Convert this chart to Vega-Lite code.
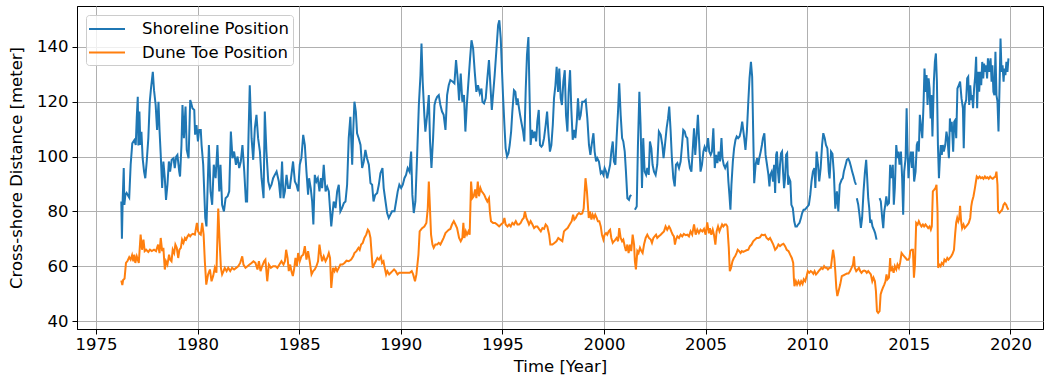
{
"$schema": "https://vega.github.io/schema/vega-lite/v6.json",
"autosize": "none",
"width": 966,
"height": 323,
"padding": {"left": 77, "top": 6, "right": 2, "bottom": 51},
"config": {
  "font": "DejaVu Sans",
  "view": {"stroke": "#000000", "strokeWidth": 1},
  "axis": {"labelFontSize": 16.5, "titleFontSize": 16.5, "titleFontWeight": "normal", "labelColor": "#000", "titleColor": "#000", "domainColor": "#000", "tickColor": "#000", "tickSize": 5, "gridColor": "#b0b0b0", "gridWidth": 1, "labelPadding": 2}
},
"datasets": {
"shore": [
{"t":1976.25,"v":83.6},{"t":1976.28,"v":70},{"t":1976.32,"v":84.8},{"t":1976.37,"v":95.8},{"t":1976.40,"v":82.4},{"t":1976.45,"v":86},{"t":1976.51,"v":86.7},{"t":1976.60,"v":85.5},{"t":1976.64,"v":85},{"t":1976.71,"v":97},{"t":1976.79,"v":104.8},{"t":1976.89,"v":106},{"t":1976.96,"v":104.2},{"t":1977.01,"v":114},{"t":1977.06,"v":121.8},{"t":1977.09,"v":104},{"t":1977.14,"v":116.4},{"t":1977.19,"v":104.2},{"t":1977.24,"v":109},{"t":1977.30,"v":99.4},{"t":1977.37,"v":94.5},{"t":1977.43,"v":92.1},{"t":1977.50,"v":98.2},{"t":1977.58,"v":106.7},{"t":1977.65,"v":120},{"t":1977.71,"v":124.8},{"t":1977.80,"v":130.9},{"t":1977.86,"v":124.2},{"t":1977.94,"v":118.8},{"t":1978.01,"v":109.7},{"t":1978.08,"v":120},{"t":1978.13,"v":109.7},{"t":1978.19,"v":100.6},{"t":1978.26,"v":88.5},{"t":1978.32,"v":98.2},{"t":1978.39,"v":92.1},{"t":1978.45,"v":84.2},{"t":1978.52,"v":89.7},{"t":1978.59,"v":98.2},{"t":1978.65,"v":94.5},{"t":1978.73,"v":98.8},{"t":1978.82,"v":99.4},{"t":1978.88,"v":95.8},{"t":1978.95,"v":100},{"t":1979.01,"v":100.6},{"t":1979.10,"v":94.5},{"t":1979.14,"v":92.7},{"t":1979.21,"v":104.2},{"t":1979.26,"v":118.8},{"t":1979.33,"v":106.7},{"t":1979.41,"v":118.2},{"t":1979.47,"v":102.4},{"t":1979.56,"v":99.4},{"t":1979.64,"v":120.6},{"t":1979.69,"v":119.4},{"t":1979.75,"v":117.6},{"t":1979.84,"v":117},{"t":1979.88,"v":108},{"t":1979.95,"v":111.5},{"t":1980.02,"v":105.5},{"t":1980.08,"v":109.7},{"t":1980.16,"v":109.7},{"t":1980.20,"v":104.2},{"t":1980.28,"v":97},{"t":1980.38,"v":77.6},
{"t":1980.44,"v":74.5},{"t":1980.56,"v":104.2},{"t":1980.64,"v":87.3},{"t":1980.72,"v":82.4},{"t":1980.80,"v":97},{"t":1980.89,"v":92.1},{"t":1980.98,"v":104.2},{"t":1981.07,"v":87.3},{"t":1981.13,"v":97},{"t":1981.21,"v":82.4},{"t":1981.30,"v":80},{"t":1981.38,"v":84.8},{"t":1981.48,"v":85.5},{"t":1981.56,"v":87.3},{"t":1981.64,"v":109.1},{"t":1981.72,"v":99.4},{"t":1981.80,"v":101.8},{"t":1981.89,"v":97},{"t":1981.97,"v":100},{"t":1982.05,"v":95.8},{"t":1982.13,"v":98.2},{"t":1982.21,"v":104.2},{"t":1982.30,"v":94.5},{"t":1982.38,"v":83.6},{"t":1982.44,"v":83.6},{"t":1982.51,"v":107.9},{"t":1982.57,"v":126},{"t":1982.66,"v":106.7},{"t":1982.74,"v":98.8},{"t":1982.82,"v":110.3},{"t":1982.90,"v":115.2},{"t":1982.98,"v":106.7},{"t":1983.07,"v":101.8},{"t":1983.15,"v":92.1},{"t":1983.25,"v":84.8},{"t":1983.31,"v":116.4},{"t":1983.39,"v":101.8},{"t":1983.48,"v":90.9},{"t":1983.56,"v":88.5},{"t":1983.64,"v":89.7},{"t":1983.72,"v":92.1},{"t":1983.80,"v":93.3},{"t":1983.89,"v":94.5},{"t":1984.00,"v":90.9},{"t":1984.08,"v":84.8},{"t":1984.16,"v":98.2},{"t":1984.23,"v":84.8},{"t":1984.30,"v":87.3},{"t":1984.38,"v":93.3},{"t":1984.46,"v":88.5},{"t":1984.54,"v":88.5},{"t":1984.62,"v":93.3},{"t":1984.70,"v":98.2},{"t":1984.79,"v":90.9},{"t":1984.87,"v":89.7},{"t":1984.95,"v":87.3},{"t":1985.03,"v":97},{"t":1985.11,"v":99.4},{"t":1985.20,"v":107.9},{"t":1985.28,"v":104.2},{"t":1985.36,"v":94.5},{"t":1985.44,"v":86.1},{"t":1985.49,"v":92.1},{"t":1985.57,"v":88.5},{"t":1985.64,"v":83.6},{"t":1985.70,"v":75.2},{"t":1985.77,"v":93.3},{"t":1985.85,"v":90.9},{"t":1985.92,"v":92.1},{"t":1986.00,"v":87.3},{"t":1986.07,"v":92.1},{"t":1986.13,"v":88.5},{"t":1986.21,"v":97},{"t":1986.30,"v":87.3},{"t":1986.38,"v":89},{"t":1986.46,"v":87.3},{"t":1986.58,"v":74.5},
{"t":1986.70,"v":83.6},{"t":1986.79,"v":81.2},{"t":1986.87,"v":87.3},{"t":1986.95,"v":89.7},{"t":1987.03,"v":80},{"t":1987.11,"v":81.2},{"t":1987.20,"v":83},{"t":1987.28,"v":83.6},{"t":1987.36,"v":89.7},{"t":1987.44,"v":106.7},{"t":1987.52,"v":114.5},{"t":1987.61,"v":97},{"t":1987.66,"v":109.1},{"t":1987.72,"v":120},{"t":1987.79,"v":116.4},{"t":1987.85,"v":108.5},{"t":1987.93,"v":106.7},{"t":1988.02,"v":104.2},{"t":1988.10,"v":95.8},{"t":1988.18,"v":98.2},{"t":1988.26,"v":102.4},{"t":1988.34,"v":99.4},{"t":1988.43,"v":97},{"t":1988.51,"v":90.3},{"t":1988.59,"v":89.7},{"t":1988.66,"v":83.6},{"t":1988.74,"v":86},{"t":1988.84,"v":86.7},{"t":1988.92,"v":89.7},{"t":1989.00,"v":93.9},{"t":1989.10,"v":95.8},{"t":1989.16,"v":88.5},{"t":1989.25,"v":83.6},{"t":1989.33,"v":79.4},{"t":1989.41,"v":77.6},{"t":1989.49,"v":78.8},{"t":1989.57,"v":80},{"t":1989.69,"v":80},{"t":1989.77,"v":83.6},{"t":1989.85,"v":87.3},{"t":1989.93,"v":89.7},{"t":1990.02,"v":88.5},{"t":1990.10,"v":89.7},{"t":1990.18,"v":92.1},{"t":1990.26,"v":93.3},{"t":1990.34,"v":95.8},{"t":1990.43,"v":94.5},{"t":1990.51,"v":101.8},{"t":1990.57,"v":86.1},{"t":1990.64,"v":79.4},{"t":1990.72,"v":83.6},{"t":1990.80,"v":99.4},{"t":1990.89,"v":118.8},{"t":1990.97,"v":129.7},{"t":1991.02,"v":141.2},{"t":1991.08,"v":127.3},{"t":1991.16,"v":115.2},{"t":1991.21,"v":109.1},{"t":1991.30,"v":115.2},{"t":1991.38,"v":122.4},{"t":1991.44,"v":105.5},{"t":1991.51,"v":95.8},{"t":1991.59,"v":106.7},{"t":1991.66,"v":118.8},{"t":1991.72,"v":120.6},{"t":1991.79,"v":121.8},{"t":1991.87,"v":122.4},{"t":1991.95,"v":118.8},{"t":1992.03,"v":116.4},{"t":1992.11,"v":115.2},{"t":1992.20,"v":109.7},{"t":1992.28,"v":122.4},{"t":1992.36,"v":126},{"t":1992.44,"v":127.9},{"t":1992.56,"v":127.3},{"t":1992.64,"v":126.7},{"t":1992.72,"v":135.2},{"t":1992.80,"v":128.5},{"t":1992.87,"v":120.5},{"t":1992.95,"v":130.3},
{"t":1993.03,"v":120},{"t":1993.11,"v":122.4},{"t":1993.18,"v":109.1},{"t":1993.25,"v":118.8},{"t":1993.33,"v":127.3},{"t":1993.41,"v":135.8},{"t":1993.48,"v":142.4},{"t":1993.56,"v":139.4},{"t":1993.64,"v":130.9},{"t":1993.72,"v":123.6},{"t":1993.80,"v":126},{"t":1993.89,"v":123},{"t":1993.97,"v":124.8},{"t":1994.02,"v":120},{"t":1994.10,"v":119.4},{"t":1994.18,"v":121.2},{"t":1994.26,"v":128.5},{"t":1994.34,"v":135.2},{"t":1994.41,"v":126},{"t":1994.48,"v":117},{"t":1994.54,"v":122.4},{"t":1994.62,"v":129.7},{"t":1994.70,"v":138.2},{"t":1994.79,"v":147.9},{"t":1994.85,"v":149.7},{"t":1994.92,"v":143},{"t":1994.97,"v":133.3},{"t":1995.03,"v":122.4},{"t":1995.10,"v":111.5},{"t":1995.16,"v":103},{"t":1995.23,"v":100},{"t":1995.30,"v":101.2},{"t":1995.36,"v":104.2},{"t":1995.43,"v":109.1},{"t":1995.49,"v":116.4},{"t":1995.57,"v":124.2},{"t":1995.64,"v":123.6},{"t":1995.70,"v":118.8},{"t":1995.75,"v":121.2},{"t":1995.82,"v":117.6},{"t":1995.87,"v":115.2},{"t":1995.93,"v":112.7},{"t":1996.02,"v":109.1},{"t":1996.08,"v":105.5},{"t":1996.15,"v":124.8},{"t":1996.21,"v":137},{"t":1996.28,"v":143.6},{"t":1996.33,"v":124.8},{"t":1996.39,"v":104.2},{"t":1996.46,"v":109.7},{"t":1996.52,"v":106.7},{"t":1996.59,"v":109.1},{"t":1996.66,"v":105.5},{"t":1996.72,"v":112.7},{"t":1996.79,"v":117},{"t":1996.85,"v":104.2},{"t":1996.92,"v":103.6},{"t":1996.98,"v":104.2},{"t":1997.05,"v":106.7},{"t":1997.13,"v":111.5},{"t":1997.20,"v":116.4},{"t":1997.26,"v":109.1},{"t":1997.34,"v":101.8},{"t":1997.41,"v":104.2},{"t":1997.48,"v":111.5},{"t":1997.54,"v":121.2},{"t":1997.61,"v":126},{"t":1997.67,"v":132.7},{"t":1997.74,"v":123.6},{"t":1997.80,"v":132.1},{"t":1997.87,"v":121.2},{"t":1997.93,"v":118.8},{"t":1998.00,"v":127.3},{"t":1998.07,"v":131.5},{"t":1998.13,"v":115.2},{"t":1998.20,"v":109.1},{"t":1998.26,"v":123.6},{"t":1998.33,"v":131.5},{"t":1998.39,"v":117.6},{"t":1998.46,"v":106.1},{"t":1998.52,"v":109.7},{"t":1998.59,"v":106.7},{"t":1998.66,"v":112.7},{"t":1998.72,"v":121.2},{"t":1998.79,"v":113.3},{"t":1998.85,"v":115},{"t":1998.93,"v":120},{"t":1999.02,"v":120},{"t":1999.10,"v":120.6},
{"t":1999.18,"v":113.9},{"t":1999.26,"v":104.2},{"t":1999.33,"v":100.6},{"t":1999.39,"v":104.2},{"t":1999.48,"v":108.5},{"t":1999.54,"v":101.8},{"t":1999.61,"v":98.2},{"t":1999.67,"v":99.4},{"t":1999.75,"v":98.2},{"t":1999.84,"v":93.9},{"t":1999.90,"v":94.5},{"t":1999.97,"v":93.3},{"t":2000.03,"v":95.8},{"t":2000.10,"v":94.5},{"t":2000.16,"v":92.1},{"t":2000.23,"v":94.5},{"t":2000.30,"v":97},{"t":2000.36,"v":101.8},{"t":2000.43,"v":105.5},{"t":2000.49,"v":98.2},{"t":2000.56,"v":97},{"t":2000.62,"v":106.7},{"t":2000.69,"v":116.4},{"t":2000.75,"v":126.7},{"t":2000.82,"v":115.2},{"t":2000.89,"v":106.7},{"t":2000.95,"v":105.5},{"t":2001.02,"v":101.8},{"t":2001.08,"v":94.5},{"t":2001.15,"v":84.8},{"t":2001.23,"v":84.2},{"t":2001.28,"v":85.5},{"t":2001.34,"v":86},{"t":2001.43,"v":null},{"t":2001.52,"v":80.6},{"t":2001.61,"v":81.8},{"t":2001.67,"v":104.2},{"t":2001.74,"v":123.6},{"t":2001.80,"v":111.5},{"t":2001.87,"v":88.5},{"t":2001.93,"v":106.7},{"t":2002.00,"v":94.5},{"t":2002.07,"v":93.3},{"t":2002.13,"v":95.8},{"t":2002.20,"v":93.3},{"t":2002.26,"v":105.5},{"t":2002.33,"v":103},{"t":2002.39,"v":97},{"t":2002.46,"v":94.5},{"t":2002.54,"v":93.3},{"t":2002.62,"v":97},{"t":2002.70,"v":109.1},{"t":2002.79,"v":107.9},{"t":2002.87,"v":104.2},{"t":2002.93,"v":99.4},{"t":2003.00,"v":104.2},{"t":2003.08,"v":110.3},{"t":2003.15,"v":113.9},{"t":2003.21,"v":118.2},{"t":2003.28,"v":109.1},{"t":2003.34,"v":99.4},{"t":2003.41,"v":92.1},{"t":2003.48,"v":89.1},{"t":2003.54,"v":97},{"t":2003.61,"v":97.6},{"t":2003.69,"v":95.8},{"t":2003.77,"v":98.2},{"t":2003.84,"v":104.2},{"t":2003.90,"v":109.7},{"t":2003.97,"v":109.1},{"t":2004.03,"v":107.3},{"t":2004.10,"v":106.7},{"t":2004.16,"v":99.4},{"t":2004.23,"v":95.8},{"t":2004.30,"v":94.5},{"t":2004.36,"v":101.8},{"t":2004.43,"v":110.3},{"t":2004.49,"v":100.6},{"t":2004.56,"v":107.9},{"t":2004.62,"v":115.2},{"t":2004.69,"v":104.2},{"t":2004.75,"v":94.5},{"t":2004.82,"v":97},{"t":2004.89,"v":101.8},{"t":2004.95,"v":103.5},
{"t":2005.03,"v":101.8},{"t":2005.12,"v":106.7},{"t":2005.18,"v":101.8},{"t":2005.25,"v":100.6},{"t":2005.31,"v":101.8},{"t":2005.38,"v":110.3},{"t":2005.45,"v":95.8},{"t":2005.51,"v":100.6},{"t":2005.58,"v":97.6},{"t":2005.64,"v":101.8},{"t":2005.71,"v":98.2},{"t":2005.78,"v":106.7},{"t":2005.83,"v":99.4},{"t":2005.89,"v":97},{"t":2005.96,"v":95.8},{"t":2006.02,"v":97},{"t":2006.07,"v":97.6},{"t":2006.12,"v":90.9},{"t":2006.17,"v":86.1},{"t":2006.22,"v":80.6},{"t":2006.27,"v":89.7},{"t":2006.34,"v":98.2},{"t":2006.40,"v":103},{"t":2006.47,"v":106.1},{"t":2006.53,"v":107.3},{"t":2006.60,"v":106.7},{"t":2006.67,"v":107.3},{"t":2006.73,"v":109.1},{"t":2006.80,"v":112.7},{"t":2006.85,"v":109.7},{"t":2006.90,"v":106.7},{"t":2006.96,"v":102.4},{"t":2007.03,"v":109.1},{"t":2007.10,"v":120},{"t":2007.16,"v":128.5},{"t":2007.23,"v":134.5},{"t":2007.29,"v":129.1},{"t":2007.34,"v":109.1},{"t":2007.39,"v":90.3},{"t":2007.46,"v":97},{"t":2007.53,"v":99.4},{"t":2007.59,"v":97},{"t":2007.64,"v":99.4},{"t":2007.71,"v":101.8},{"t":2007.77,"v":104.2},{"t":2007.82,"v":106.7},{"t":2007.89,"v":108.5},{"t":2007.95,"v":100.6},{"t":2008.02,"v":97},{"t":2008.09,"v":93.3},{"t":2008.14,"v":89.1},{"t":2008.18,"v":93.3},{"t":2008.25,"v":94.5},{"t":2008.32,"v":90.9},{"t":2008.37,"v":97},{"t":2008.42,"v":86.7},{"t":2008.47,"v":100.6},{"t":2008.51,"v":101.8},{"t":2008.56,"v":94.5},{"t":2008.61,"v":90.3},{"t":2008.66,"v":97},{"t":2008.71,"v":101.2},{"t":2008.76,"v":101.8},{"t":2008.81,"v":94.5},{"t":2008.86,"v":88.5},{"t":2008.91,"v":92.1},{"t":2008.96,"v":100.6},{"t":2009.01,"v":101.2},{"t":2009.06,"v":89.7},{"t":2009.11,"v":92.1},{"t":2009.17,"v":90.9},{"t":2009.22,"v":82.4},{"t":2009.29,"v":81.2},{"t":2009.36,"v":76.4},{"t":2009.42,"v":74.5},{"t":2009.49,"v":74.5},{"t":2009.55,"v":75.2},{"t":2009.62,"v":75.8},{"t":2009.69,"v":77.6},{"t":2009.75,"v":79.4},{"t":2009.82,"v":80.6},{"t":2009.88,"v":80.6},{"t":2009.95,"v":81.2},{"t":2010.02,"v":81.8},{"t":2010.08,"v":82.4},{"t":2010.15,"v":86.1},{"t":2010.21,"v":90.9},{"t":2010.28,"v":94.5},{"t":2010.35,"v":95.8},{"t":2010.40,"v":88.5},{"t":2010.46,"v":101.8},{"t":2010.53,"v":97},{"t":2010.59,"v":90.9},{"t":2010.66,"v":95.8},{"t":2010.73,"v":104.2},{"t":2010.79,"v":108.5},{"t":2010.86,"v":106.7},{"t":2010.92,"v":104.2},{"t":2010.99,"v":103},{"t":2011.06,"v":94.5},{"t":2011.10,"v":92},{"t":2011.17,"v":101.8},{"t":2011.24,"v":101},{"t":2011.31,"v":94},{"t":2011.38,"v":81},
{"t":2011.46,"v":87.3},{"t":2011.53,"v":80},{"t":2011.60,"v":89.7},{"t":2011.69,"v":91.5},{"t":2011.75,"v":92.1},{"t":2011.80,"v":94.5},{"t":2011.89,"v":97},{"t":2011.95,"v":98.8},{"t":2012.02,"v":99.2},{"t":2012.08,"v":98.2},{"t":2012.15,"v":96.4},{"t":2012.21,"v":94.5},{"t":2012.28,"v":92.7},{"t":2012.34,"v":90.9},{"t":2012.40,"v":89.7},{"t":2012.42,"v":null},{"t":2012.44,"v":84.8},{"t":2012.51,"v":82.4},{"t":2012.57,"v":78.8},{"t":2012.64,"v":74},{"t":2012.70,"v":77.6},{"t":2012.77,"v":87.3},{"t":2012.84,"v":94.5},{"t":2012.90,"v":98.8},{"t":2012.95,"v":92.1},{"t":2013.00,"v":84.8},{"t":2013.05,"v":81.2},{"t":2013.10,"v":75.8},{"t":2013.15,"v":77},{"t":2013.21,"v":74.5},{"t":2013.28,"v":73.3},{"t":2013.34,"v":72.1},{"t":2013.41,"v":69.7},{"t":2013.48,"v":null},{"t":2013.56,"v":84.8},{"t":2013.62,"v":83.6},{"t":2013.69,"v":77.4},{"t":2013.74,"v":73.9},{"t":2013.79,"v":80},{"t":2013.84,"v":82.4},{"t":2013.89,"v":85.5},{"t":2013.95,"v":82.4},{"t":2014.02,"v":83},{"t":2014.08,"v":97},{"t":2014.15,"v":92.1},{"t":2014.21,"v":97},{"t":2014.26,"v":82.4},{"t":2014.31,"v":88.5},{"t":2014.38,"v":104.2},{"t":2014.44,"v":99.4},{"t":2014.49,"v":101.8},{"t":2014.54,"v":97},{"t":2014.61,"v":101.8},{"t":2014.67,"v":92.1},{"t":2014.72,"v":78.8},{"t":2014.77,"v":94.5},{"t":2014.84,"v":99.4},{"t":2014.89,"v":117.6},{"t":2014.93,"v":104.2},{"t":2014.98,"v":92.1},{"t":2015.03,"v":98.2},{"t":2015.10,"v":101.8},{"t":2015.15,"v":95.8},{"t":2015.20,"v":101.8},{"t":2015.26,"v":90.9},{"t":2015.33,"v":94.5},{"t":2015.39,"v":104.2},{"t":2015.44,"v":105.5},{"t":2015.49,"v":101.8},{"t":2015.54,"v":115.2},{"t":2015.59,"v":111.5},{"t":2015.66,"v":106.7},{"t":2015.72,"v":118.8},{"t":2015.77,"v":132.1},{"t":2015.82,"v":123.6},{"t":2015.87,"v":129.7},{"t":2015.92,"v":118.8},{"t":2015.97,"v":128.5},{"t":2016.02,"v":124.8},{"t":2016.07,"v":113.9},{"t":2016.11,"v":122.4},{"t":2016.16,"v":107.3},{"t":2016.23,"v":127.3},{"t":2016.28,"v":134.5},{"t":2016.33,"v":137.6},{"t":2016.38,"v":127.3},{"t":2016.43,"v":104.2},{"t":2016.48,"v":92.1},{"t":2016.52,"v":98.2},{"t":2016.57,"v":104.2},{"t":2016.62,"v":100.6},{"t":2016.67,"v":104.2},{"t":2016.72,"v":101.8},{"t":2016.79,"v":104.2},{"t":2016.85,"v":109.1},{"t":2016.90,"v":106.7},{"t":2016.97,"v":99.4},{"t":2017.02,"v":113.9},{"t":2017.07,"v":109.1},{"t":2017.11,"v":112.7},{"t":2017.18,"v":101.8},{"t":2017.23,"v":112.7},{"t":2017.28,"v":113.3},{"t":2017.33,"v":106.7},{"t":2017.39,"v":124.8},{"t":2017.46,"v":126},{"t":2017.52,"v":127.3},
{"t":2017.59,"v":121.2},{"t":2017.66,"v":117.6},{"t":2017.70,"v":103},{"t":2017.75,"v":118.8},{"t":2017.82,"v":120.6},{"t":2017.87,"v":128.5},{"t":2017.92,"v":129.1},{"t":2017.97,"v":118.8},{"t":2018.02,"v":126},{"t":2018.07,"v":120.6},{"t":2018.11,"v":122.4},{"t":2018.16,"v":117.6},{"t":2018.21,"v":124.8},{"t":2018.26,"v":129.1},{"t":2018.31,"v":136.4},{"t":2018.36,"v":117.6},{"t":2018.41,"v":130.9},{"t":2018.46,"v":123.6},{"t":2018.51,"v":130.9},{"t":2018.56,"v":126},{"t":2018.61,"v":134.5},{"t":2018.66,"v":128.5},{"t":2018.70,"v":133.9},{"t":2018.75,"v":130.9},{"t":2018.80,"v":133.3},{"t":2018.85,"v":128.5},{"t":2018.89,"v":135.8},{"t":2018.95,"v":130.9},{"t":2019.02,"v":135.8},{"t":2019.07,"v":127.3},{"t":2019.11,"v":133.3},{"t":2019.16,"v":123.6},{"t":2019.21,"v":122.4},{"t":2019.26,"v":138.2},{"t":2019.31,"v":122.4},{"t":2019.36,"v":120},{"t":2019.41,"v":109.1},{"t":2019.46,"v":124.8},{"t":2019.51,"v":143},{"t":2019.56,"v":130.9},{"t":2019.61,"v":133.3},{"t":2019.66,"v":127.3},{"t":2019.70,"v":132.1},{"t":2019.75,"v":129.7},{"t":2019.80,"v":134.5},{"t":2019.85,"v":130.9},{"t":2019.90,"v":135.8}
],
"dune": [
{"t":1976.25,"v":54.8},{"t":1976.30,"v":53.1},{"t":1976.34,"v":55},{"t":1976.41,"v":55.5},{"t":1976.48,"v":61.2},{"t":1976.56,"v":62},{"t":1976.64,"v":63.3},{"t":1976.71,"v":62.4},{"t":1976.78,"v":64},{"t":1976.84,"v":61.8},{"t":1976.89,"v":64.2},{"t":1976.94,"v":61.2},{"t":1977.01,"v":63.6},{"t":1977.11,"v":61.2},{"t":1977.20,"v":71.5},{"t":1977.27,"v":66},{"t":1977.34,"v":69.7},{"t":1977.40,"v":65.5},{"t":1977.47,"v":66},{"t":1977.58,"v":65.2},{"t":1977.66,"v":66},{"t":1977.75,"v":65.5},{"t":1977.86,"v":66},{"t":1977.96,"v":65.5},{"t":1978.06,"v":67.9},{"t":1978.13,"v":64.8},{"t":1978.19,"v":70.3},{"t":1978.26,"v":65.5},{"t":1978.32,"v":66.7},{"t":1978.39,"v":58.8},{"t":1978.45,"v":61.8},{"t":1978.52,"v":60.6},{"t":1978.60,"v":64.2},{"t":1978.65,"v":62.4},{"t":1978.72,"v":61.8},{"t":1978.78,"v":66},{"t":1978.85,"v":64.8},{"t":1978.91,"v":67.9},{"t":1978.98,"v":66.7},{"t":1979.05,"v":63},{"t":1979.11,"v":66},{"t":1979.18,"v":66.7},{"t":1979.24,"v":69.7},{"t":1979.31,"v":68.5},{"t":1979.38,"v":70.3},{"t":1979.44,"v":69.7},{"t":1979.51,"v":70.9},{"t":1979.57,"v":71.5},{"t":1979.64,"v":70.9},{"t":1979.70,"v":71.5},{"t":1979.77,"v":71.8},{"t":1979.87,"v":71.5},{"t":1979.97,"v":75.8},{"t":1980.03,"v":72.7},{"t":1980.10,"v":71.8},{"t":1980.16,"v":71.5},{"t":1980.23,"v":75.8},{"t":1980.30,"v":71.5},{"t":1980.36,"v":61.8},{"t":1980.43,"v":53.3},
{"t":1980.52,"v":57},{"t":1980.61,"v":58.8},{"t":1980.69,"v":54.5},{"t":1980.77,"v":56.4},{"t":1980.85,"v":59.4},{"t":1980.93,"v":57.6},{"t":1981.02,"v":81},{"t":1981.08,"v":70.3},{"t":1981.15,"v":59.4},{"t":1981.21,"v":57},{"t":1981.28,"v":58.2},{"t":1981.34,"v":59.4},{"t":1981.43,"v":58.2},{"t":1981.51,"v":59.4},{"t":1981.61,"v":58.2},{"t":1981.70,"v":59.4},{"t":1981.80,"v":58.8},{"t":1981.90,"v":59.4},{"t":1982.00,"v":60},{"t":1982.10,"v":61.2},{"t":1982.20,"v":63.6},{"t":1982.26,"v":60.6},{"t":1982.36,"v":59.4},{"t":1982.46,"v":60},{"t":1982.56,"v":60.6},{"t":1982.66,"v":61.2},{"t":1982.75,"v":61.8},{"t":1982.85,"v":61.2},{"t":1982.95,"v":58.8},{"t":1983.02,"v":61.8},{"t":1983.10,"v":58.2},{"t":1983.18,"v":60},{"t":1983.28,"v":61.8},{"t":1983.34,"v":62.4},{"t":1983.43,"v":54.5},{"t":1983.51,"v":60.6},{"t":1983.61,"v":59.4},{"t":1983.72,"v":60},{"t":1983.84,"v":60},{"t":1983.93,"v":59.4},{"t":1984.03,"v":60.6},{"t":1984.13,"v":61.8},{"t":1984.23,"v":60.6},{"t":1984.30,"v":61.8},{"t":1984.36,"v":66},{"t":1984.43,"v":63},{"t":1984.49,"v":58.2},{"t":1984.56,"v":60.6},{"t":1984.62,"v":58.2},{"t":1984.69,"v":56.4},{"t":1984.75,"v":58.8},{"t":1984.82,"v":63},{"t":1984.89,"v":60},{"t":1984.95,"v":64.8},{"t":1985.03,"v":61.8},{"t":1985.11,"v":63.6},{"t":1985.20,"v":64.2},{"t":1985.28,"v":67.3},{"t":1985.36,"v":62.4},{"t":1985.44,"v":65.5},{"t":1985.52,"v":61.8},{"t":1985.61,"v":57},{"t":1985.69,"v":58.2},{"t":1985.77,"v":58.8},{"t":1985.85,"v":60},{"t":1985.93,"v":61.8},{"t":1986.00,"v":67.9},{"t":1986.07,"v":64.2},{"t":1986.13,"v":61.8},{"t":1986.21,"v":63.6},{"t":1986.30,"v":61.8},{"t":1986.38,"v":63},{"t":1986.46,"v":64.8},{"t":1986.52,"v":63},{"t":1986.58,"v":52.1},
{"t":1986.67,"v":59.4},{"t":1986.74,"v":58.2},{"t":1986.80,"v":59.4},{"t":1986.87,"v":58.2},{"t":1986.95,"v":59.4},{"t":1987.03,"v":60.6},{"t":1987.13,"v":60.6},{"t":1987.23,"v":61.2},{"t":1987.33,"v":62},{"t":1987.44,"v":61.8},{"t":1987.56,"v":62.4},{"t":1987.66,"v":63.6},{"t":1987.72,"v":64.8},{"t":1987.82,"v":65.5},{"t":1987.92,"v":66.7},{"t":1987.98,"v":66},{"t":1988.05,"v":67.9},{"t":1988.13,"v":68.5},{"t":1988.21,"v":70.3},{"t":1988.30,"v":71.5},{"t":1988.38,"v":73.3},{"t":1988.44,"v":72.7},{"t":1988.51,"v":70.3},{"t":1988.57,"v":64.2},{"t":1988.62,"v":59.4},{"t":1988.69,"v":60.6},{"t":1988.77,"v":61.8},{"t":1988.85,"v":63},{"t":1988.93,"v":62.4},{"t":1989.02,"v":63.6},{"t":1989.08,"v":61.2},{"t":1989.15,"v":61.8},{"t":1989.21,"v":59.4},{"t":1989.28,"v":57},{"t":1989.34,"v":58.2},{"t":1989.43,"v":57},{"t":1989.51,"v":57.6},{"t":1989.59,"v":58.2},{"t":1989.67,"v":58.8},{"t":1989.75,"v":58.2},{"t":1989.84,"v":57},{"t":1989.93,"v":57.6},{"t":1990.07,"v":57.6},{"t":1990.18,"v":57.6},{"t":1990.31,"v":57.6},{"t":1990.44,"v":57.6},{"t":1990.54,"v":58.2},{"t":1990.61,"v":57},{"t":1990.70,"v":54.5},{"t":1990.77,"v":57},{"t":1990.87,"v":64.2},{"t":1990.93,"v":72.7},{"t":1991.05,"v":73.9},{"t":1991.16,"v":74.5},{"t":1991.26,"v":75.8},{"t":1991.33,"v":81.2},{"t":1991.38,"v":90.9},{"t":1991.43,"v":82.4},{"t":1991.49,"v":71.5},{"t":1991.56,"v":67.9},{"t":1991.62,"v":66.7},{"t":1991.70,"v":67.9},{"t":1991.79,"v":67.9},{"t":1991.87,"v":68.5},{"t":1991.95,"v":67.9},{"t":1992.03,"v":69.1},{"t":1992.11,"v":70.3},{"t":1992.20,"v":72.1},{"t":1992.28,"v":72.7},{"t":1992.36,"v":73.3},{"t":1992.44,"v":73.6},{"t":1992.52,"v":75.2},{"t":1992.61,"v":76.4},{"t":1992.69,"v":75.2},{"t":1992.77,"v":73.9},
{"t":1992.87,"v":70.3},{"t":1992.95,"v":69.1},{"t":1993.03,"v":70.3},{"t":1993.08,"v":75.8},{"t":1993.13,"v":70.3},{"t":1993.20,"v":72.7},{"t":1993.26,"v":71.5},{"t":1993.33,"v":72.7},{"t":1993.39,"v":71.5},{"t":1993.46,"v":90.9},{"t":1993.52,"v":84.8},{"t":1993.59,"v":85.5},{"t":1993.66,"v":88},{"t":1993.72,"v":84.8},{"t":1993.79,"v":90.9},{"t":1993.85,"v":85.5},{"t":1993.92,"v":88.5},{"t":1993.98,"v":87.3},{"t":1994.05,"v":86.7},{"t":1994.11,"v":86},{"t":1994.18,"v":84.8},{"t":1994.26,"v":83.6},{"t":1994.34,"v":84.8},{"t":1994.39,"v":79.4},{"t":1994.44,"v":76.4},{"t":1994.54,"v":75.8},{"t":1994.64,"v":75.8},{"t":1994.74,"v":75.2},{"t":1994.84,"v":74.5},{"t":1994.93,"v":75.2},{"t":1995.03,"v":75.8},{"t":1995.10,"v":77.6},{"t":1995.16,"v":75.2},{"t":1995.25,"v":74.5},{"t":1995.33,"v":75.2},{"t":1995.41,"v":74.5},{"t":1995.49,"v":75.8},{"t":1995.57,"v":75.2},{"t":1995.66,"v":76.4},{"t":1995.74,"v":75.2},{"t":1995.82,"v":75.2},{"t":1995.90,"v":75.8},{"t":1995.98,"v":77},{"t":1996.05,"v":77.6},{"t":1996.11,"v":80},{"t":1996.18,"v":77.6},{"t":1996.25,"v":76.4},{"t":1996.31,"v":75.2},{"t":1996.39,"v":76.4},{"t":1996.48,"v":75.2},{"t":1996.56,"v":73.9},{"t":1996.64,"v":74.5},{"t":1996.72,"v":74.5},{"t":1996.80,"v":73.6},{"t":1996.89,"v":72.7},{"t":1996.97,"v":73.9},{"t":1997.05,"v":73.6},{"t":1997.13,"v":75.2},{"t":1997.21,"v":74.5},{"t":1997.30,"v":71.5},{"t":1997.36,"v":67.9},{"t":1997.46,"v":67.9},{"t":1997.56,"v":68.5},{"t":1997.66,"v":69.1},{"t":1997.75,"v":70.3},{"t":1997.85,"v":69.7},{"t":1997.95,"v":69.1},{"t":1998.03,"v":72.7},{"t":1998.11,"v":73.3},{"t":1998.21,"v":73.9},{"t":1998.31,"v":75.2},{"t":1998.41,"v":76.4},{"t":1998.48,"v":78.8},{"t":1998.54,"v":77},{"t":1998.61,"v":77.6},{"t":1998.69,"v":78.8},{"t":1998.77,"v":79.4},{"t":1998.85,"v":79},{"t":1998.93,"v":79.2},{"t":1999.00,"v":81},{"t":1999.09,"v":92.1},{"t":1999.16,"v":87.3},
{"t":1999.25,"v":77.6},{"t":1999.31,"v":80},{"t":1999.38,"v":77},{"t":1999.44,"v":78.8},{"t":1999.51,"v":77.6},{"t":1999.57,"v":78.8},{"t":1999.64,"v":77.6},{"t":1999.70,"v":76.4},{"t":1999.77,"v":76.4},{"t":1999.84,"v":74.5},{"t":1999.90,"v":71.5},{"t":1999.97,"v":69.7},{"t":2000.03,"v":71.5},{"t":2000.10,"v":72.1},{"t":2000.16,"v":71.5},{"t":2000.23,"v":72.7},{"t":2000.30,"v":73.3},{"t":2000.36,"v":70.3},{"t":2000.43,"v":68.5},{"t":2000.49,"v":69.1},{"t":2000.56,"v":69.7},{"t":2000.62,"v":70.3},{"t":2000.69,"v":69.1},{"t":2000.75,"v":73.9},{"t":2000.82,"v":70.3},{"t":2000.89,"v":69.1},{"t":2000.95,"v":69.7},{"t":2001.02,"v":67.3},{"t":2001.08,"v":65.5},{"t":2001.15,"v":67.9},{"t":2001.21,"v":64.8},{"t":2001.28,"v":67.9},{"t":2001.34,"v":65.5},{"t":2001.41,"v":71.5},{"t":2001.48,"v":67.9},{"t":2001.52,"v":61.8},{"t":2001.57,"v":58.8},{"t":2001.64,"v":65.5},{"t":2001.70,"v":64.8},{"t":2001.77,"v":66.7},{"t":2001.84,"v":65.5},{"t":2001.90,"v":64.8},{"t":2001.97,"v":67.9},{"t":2002.05,"v":70.3},{"t":2002.13,"v":71.5},{"t":2002.21,"v":70.3},{"t":2002.30,"v":69.7},{"t":2002.36,"v":68.5},{"t":2002.43,"v":70.3},{"t":2002.49,"v":70.9},{"t":2002.56,"v":71.5},{"t":2002.62,"v":70.3},{"t":2002.70,"v":70.9},{"t":2002.79,"v":71.5},{"t":2002.87,"v":72.1},{"t":2002.95,"v":72.7},{"t":2003.03,"v":74.5},{"t":2003.11,"v":73.3},{"t":2003.20,"v":74.5},{"t":2003.25,"v":73.9},{"t":2003.31,"v":72.7},{"t":2003.38,"v":71.5},{"t":2003.44,"v":70.9},{"t":2003.49,"v":67.9},{"t":2003.54,"v":69.7},{"t":2003.61,"v":70.9},{"t":2003.69,"v":70.3},{"t":2003.77,"v":71.5},{"t":2003.85,"v":70.9},{"t":2003.93,"v":71.8},{"t":2004.02,"v":71.3},{"t":2004.10,"v":71.5},{"t":2004.18,"v":70.9},{"t":2004.26,"v":72.7},{"t":2004.34,"v":71.5},{"t":2004.43,"v":75.2},{"t":2004.51,"v":71.5},{"t":2004.59,"v":73.3},{"t":2004.67,"v":72.1},{"t":2004.75,"v":73.3},{"t":2004.84,"v":72.7},{"t":2004.92,"v":73.6},{"t":2005.00,"v":71.5},{"t":2005.08,"v":76},{"t":2005.16,"v":72},
{"t":2005.21,"v":73.9},{"t":2005.28,"v":71.5},{"t":2005.35,"v":73.3},{"t":2005.41,"v":71.5},{"t":2005.48,"v":67.9},{"t":2005.54,"v":72.7},{"t":2005.61,"v":74.5},{"t":2005.68,"v":72.7},{"t":2005.74,"v":73.9},{"t":2005.81,"v":75.2},{"t":2005.87,"v":74.5},{"t":2005.94,"v":75.2},{"t":2006.01,"v":75.2},{"t":2006.07,"v":74.5},{"t":2006.14,"v":66.7},{"t":2006.19,"v":58.2},{"t":2006.25,"v":59.4},{"t":2006.32,"v":61.8},{"t":2006.39,"v":63},{"t":2006.45,"v":63.6},{"t":2006.52,"v":64.8},{"t":2006.58,"v":66},{"t":2006.65,"v":65.5},{"t":2006.72,"v":64.8},{"t":2006.78,"v":65.5},{"t":2006.85,"v":65.2},{"t":2006.93,"v":65.5},{"t":2007.01,"v":65.8},{"t":2007.10,"v":66},{"t":2007.18,"v":67.3},{"t":2007.26,"v":67.9},{"t":2007.34,"v":69.1},{"t":2007.43,"v":69.7},{"t":2007.51,"v":70.3},{"t":2007.59,"v":70.3},{"t":2007.67,"v":70.5},{"t":2007.76,"v":71.5},{"t":2007.84,"v":71.3},{"t":2007.92,"v":71.5},{"t":2008.00,"v":70.3},{"t":2008.09,"v":69.7},{"t":2008.17,"v":70.3},{"t":2008.25,"v":69.1},{"t":2008.33,"v":67.9},{"t":2008.42,"v":66},{"t":2008.50,"v":66.7},{"t":2008.58,"v":67.9},{"t":2008.66,"v":67.3},{"t":2008.75,"v":67.9},{"t":2008.83,"v":68.2},{"t":2008.91,"v":67.3},{"t":2008.99,"v":66},{"t":2009.08,"v":65.5},{"t":2009.16,"v":64.2},{"t":2009.24,"v":63},{"t":2009.31,"v":61.2},{"t":2009.34,"v":55.8},{"t":2009.37,"v":52.7},{"t":2009.44,"v":54.5},{"t":2009.50,"v":53.3},{"t":2009.57,"v":54.5},{"t":2009.64,"v":53.3},{"t":2009.70,"v":54.5},{"t":2009.77,"v":53.5},{"t":2009.83,"v":55.2},{"t":2009.90,"v":54.5},{"t":2009.97,"v":56.4},{"t":2010.03,"v":58.2},{"t":2010.10,"v":57.6},{"t":2010.17,"v":58.2},{"t":2010.23,"v":57.9},{"t":2010.30,"v":57.2},{"t":2010.36,"v":58.2},{"t":2010.43,"v":57},{"t":2010.50,"v":57.6},{"t":2010.56,"v":58.2},{"t":2010.63,"v":58.8},{"t":2010.69,"v":59.4},{"t":2010.76,"v":59},{"t":2010.83,"v":60},{"t":2010.89,"v":59.4},{"t":2010.96,"v":59.4},{"t":2011.02,"v":58.8},{"t":2011.09,"v":59.4},{"t":2011.16,"v":59.4},{"t":2011.22,"v":63},{"t":2011.27,"v":66},{"t":2011.33,"v":63},{"t":2011.38,"v":58.2},{"t":2011.43,"v":52.1},{"t":2011.48,"v":49.1},
{"t":2011.54,"v":50.9},{"t":2011.62,"v":53.3},{"t":2011.70,"v":56.4},{"t":2011.79,"v":56.7},{"t":2011.87,"v":57},{"t":2011.95,"v":57.3},{"t":2012.03,"v":57.3},{"t":2012.11,"v":58.2},{"t":2012.18,"v":59.4},{"t":2012.25,"v":60.6},{"t":2012.30,"v":63.6},{"t":2012.34,"v":59.4},{"t":2012.41,"v":58.2},{"t":2012.48,"v":58.8},{"t":2012.54,"v":59.4},{"t":2012.61,"v":58.2},{"t":2012.67,"v":57.6},{"t":2012.74,"v":58.2},{"t":2012.80,"v":58.4},{"t":2012.87,"v":58.2},{"t":2012.93,"v":57.6},{"t":2013.00,"v":58.2},{"t":2013.07,"v":57.6},{"t":2013.13,"v":57},{"t":2013.20,"v":54.5},{"t":2013.26,"v":55.8},{"t":2013.33,"v":54.5},{"t":2013.38,"v":50.9},{"t":2013.43,"v":43.6},{"t":2013.49,"v":43},{"t":2013.56,"v":43.6},{"t":2013.61,"v":49.7},{"t":2013.66,"v":50.9},{"t":2013.72,"v":52.1},{"t":2013.79,"v":53.3},{"t":2013.85,"v":54.5},{"t":2013.90,"v":57},{"t":2013.95,"v":55.2},{"t":2014.02,"v":55.8},{"t":2014.08,"v":63},{"t":2014.11,"v":58.2},{"t":2014.18,"v":59.4},{"t":2014.25,"v":57.6},{"t":2014.31,"v":60},{"t":2014.38,"v":58.8},{"t":2014.44,"v":60.6},{"t":2014.51,"v":59.4},{"t":2014.57,"v":61.2},{"t":2014.64,"v":64.8},{"t":2014.70,"v":64.2},{"t":2014.77,"v":63.6},{"t":2014.84,"v":63},{"t":2014.90,"v":62.4},{"t":2014.97,"v":62.4},{"t":2015.03,"v":63},{"t":2015.07,"v":65.5},{"t":2015.13,"v":66},{"t":2015.20,"v":66},{"t":2015.25,"v":55.8},{"t":2015.30,"v":60.6},{"t":2015.36,"v":75.8},{"t":2015.43,"v":75.2},{"t":2015.49,"v":76.4},{"t":2015.56,"v":75.2},{"t":2015.62,"v":74.5},{"t":2015.69,"v":75.2},{"t":2015.75,"v":74.5},{"t":2015.82,"v":75.2},{"t":2015.89,"v":74.5},{"t":2015.95,"v":73.9},{"t":2016.02,"v":74.5},{"t":2016.08,"v":73.3},{"t":2016.13,"v":74.5},{"t":2016.18,"v":87.3},{"t":2016.25,"v":87.9},{"t":2016.31,"v":88.5},{"t":2016.36,"v":89.7},{"t":2016.41,"v":80},{"t":2016.44,"v":59.4},{"t":2016.49,"v":60.6},{"t":2016.56,"v":60},{"t":2016.62,"v":61.2},{"t":2016.69,"v":60.6},{"t":2016.75,"v":62.4},{"t":2016.82,"v":61.8},{"t":2016.89,"v":63},{"t":2016.95,"v":62.4},{"t":2017.02,"v":63},{"t":2017.08,"v":63.6},{"t":2017.15,"v":64.5},{"t":2017.22,"v":66},{"t":2017.28,"v":72},{"t":2017.33,"v":76},{"t":2017.38,"v":77.6},{"t":2017.43,"v":76.4},{"t":2017.48,"v":77.6},{"t":2017.52,"v":82},{"t":2017.57,"v":76.4},{"t":2017.62,"v":73.9},{"t":2017.69,"v":75.2},{"t":2017.75,"v":73.9},{"t":2017.82,"v":74.5},{"t":2017.89,"v":75.2},{"t":2017.95,"v":75.8},{"t":2018.02,"v":77.6},{"t":2018.07,"v":81.8},{"t":2018.11,"v":83.6},{"t":2018.18,"v":85.5},{"t":2018.25,"v":88.5},{"t":2018.30,"v":90.9},{"t":2018.34,"v":92.7},{"t":2018.41,"v":92.1},{"t":2018.48,"v":92.7},{"t":2018.54,"v":92.1},{"t":2018.61,"v":92.4},{"t":2018.67,"v":91.9},{"t":2018.74,"v":92.7},{"t":2018.80,"v":92.1},{"t":2018.87,"v":92.4},{"t":2018.93,"v":91.9},{"t":2019.00,"v":92.7},{"t":2019.07,"v":92.1},{"t":2019.13,"v":91.9},{"t":2019.20,"v":92.4},{"t":2019.26,"v":92.7},{"t":2019.31,"v":94.5},{"t":2019.36,"v":89.7},{"t":2019.39,"v":80},{"t":2019.46,"v":79.4},{"t":2019.52,"v":80},{"t":2019.59,"v":80.6},{"t":2019.66,"v":82.4},{"t":2019.72,"v":83},{"t":2019.79,"v":82.4},{"t":2019.85,"v":81.2},{"t":2019.90,"v":80.6}
]
},
"encoding": {
  "x": {"field": "t", "type": "quantitative", "scale": {"domain": [1974.07, 2021.6], "nice": false, "zero": false},
        "axis": {"values": [1975,1980,1985,1990,1995,2000,2005,2010,2015,2020], "format": "d", "title": "Time [Year]", "titlePadding": 6}},
  "y": {"field": "v", "type": "quantitative", "scale": {"domain": [37.1, 154.9], "nice": false, "zero": false},
        "axis": {"values": [40,60,80,100,120,140], "title": "Cross-shore Distance [meter]", "titlePadding": 12, "labelPadding": 4}}
},
"layer": [
  {"data": {"name": "shore"}, "mark": {"type": "line", "strokeWidth": 2, "clip": true},
   "encoding": {"color": {"datum": "Shoreline Position", "type": "nominal",
      "scale": {"domain": ["Shoreline Position", "Dune Toe Position"], "range": ["#1f77b4", "#ff7f0e"]},
      "legend": {"title": null, "orient": "none", "legendX": 9, "legendY": 9, "symbolType": "M-2,0H2", "symbolSize": 324, "symbolOffset": 7, "symbolStrokeWidth": 2, "labelFontSize": 16.5, "labelColor": "#000", "labelOffset": 25, "rowPadding": 4.5, "padding": 4, "fillColor": "rgba(255,255,255,0.8)", "strokeColor": "#cccccc", "cornerRadius": 3}}}},
  {"data": {"name": "dune"}, "mark": {"type": "line", "strokeWidth": 2, "clip": true},
   "encoding": {"color": {"datum": "Dune Toe Position", "type": "nominal"}}}
]
}
